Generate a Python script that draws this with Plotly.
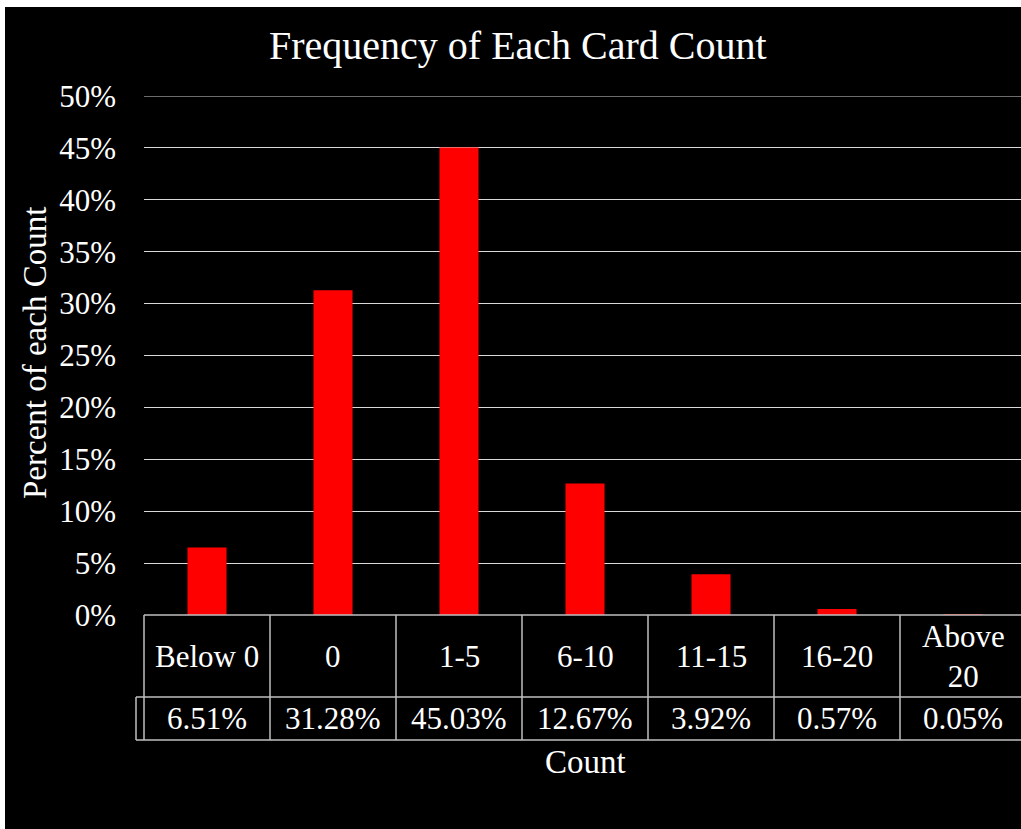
import plotly.graph_objects as go

# ---- data ----
categories = ["Below 0", "0", "1-5", "6-10", "11-15", "16-20", "Above 20"]
category_labels = ["Below 0", "0", "1-5", "6-10", "11-15", "16-20", "Above<br>20"]
percent_values = [6.51, 31.28, 45.03, 12.67, 3.92, 0.57, 0.05]
y_tick_values = [0, 5, 10, 15, 20, 25, 30, 35, 40, 45, 50]
y_tick_labels = [f"{v}%" for v in y_tick_values]

# ---- layout constants ----
W, H = 1021, 829
ML, MR, MT, MB = 144, 0, 96, 214
PW, PH = W - ML - MR, H - MT - MB
XMIN = -0.5
XMAX = XMIN + PW / 126.0
FONT = "Liberation Serif"
LINE = "#bfbfbf"
GRID = "#d9d9d9"


def px_x(px):
    return (px - ML) / PW


def px_y(py):
    return (H - MB - py) / PH


def cat_x(v):
    return (v - XMIN) / (XMAX - XMIN)


fig = go.Figure()
fig.add_trace(go.Bar(
    x=categories, y=percent_values, width=0.31,
    marker=dict(color="#ff0000", line=dict(width=0)),
    showlegend=False, hoverinfo="skip",
))

shapes = []
# white strips at top and left edge of the picture
shapes.append(dict(type="rect", xref="paper", yref="paper",
                   x0=px_x(0), x1=px_x(W), y0=px_y(7), y1=px_y(0),
                   fillcolor="white", line=dict(width=0), layer="below"))
shapes.append(dict(type="rect", xref="paper", yref="paper",
                   x0=px_x(0), x1=px_x(5), y0=px_y(H), y1=px_y(0),
                   fillcolor="white", line=dict(width=0), layer="below"))
# top gridline (at the upper range edge)
shapes.append(dict(type="line", xref="paper", yref="y",
                   x0=0, x1=1, y0=y_tick_values[-1], y1=y_tick_values[-1],
                   line=dict(color=GRID, width=1)))

row1_top, row1_bot, row2_bot = 615, 697, 740
n = len(categories)
# horizontal table lines
shapes.append(dict(type="line", xref="paper", yref="paper",
                   x0=0, x1=1, y0=px_y(row1_top), y1=px_y(row1_top),
                   line=dict(color=LINE, width=1.5)))
for yy in (row1_bot, row2_bot):
    shapes.append(dict(type="line", xref="paper", yref="paper",
                       x0=px_x(136), x1=1, y0=px_y(yy), y1=px_y(yy),
                       line=dict(color=LINE, width=1.5)))
shapes.append(dict(type="line", xref="paper", yref="paper",
                   x0=px_x(136), x1=px_x(136), y0=px_y(row1_bot), y1=px_y(row2_bot),
                   line=dict(color=LINE, width=1.5)))
# vertical table lines at category boundaries
for i in range(n + 1):
    xb = cat_x(i - 0.5)
    if xb > 1.001:
        continue
    shapes.append(dict(type="line", xref="paper", yref="paper",
                       x0=xb, x1=xb, y0=px_y(row1_top), y1=px_y(row2_bot),
                       line=dict(color=LINE, width=1.5)))

annotations = []
for i, (lab, v) in enumerate(zip(category_labels, percent_values)):
    annotations.append(dict(x=cat_x(i), y=px_y((row1_top + row1_bot) / 2),
                            xref="paper", yref="paper", text=lab, showarrow=False,
                            xanchor="center", yanchor="middle",
                            font=dict(family=FONT, size=31, color="white")))
    annotations.append(dict(x=cat_x(i), y=px_y((row1_bot + row2_bot) / 2),
                            xref="paper", yref="paper", text=f"{v:.2f}%", showarrow=False,
                            xanchor="center", yanchor="middle",
                            font=dict(family=FONT, size=31, color="white")))

# axis titles
annotations.append(dict(x=px_x(585), y=px_y(762), xref="paper", yref="paper",
                        text="Count", showarrow=False, xanchor="center", yanchor="middle",
                        font=dict(family=FONT, size=33, color="white")))
annotations.append(dict(x=px_x(35), y=px_y(353), xref="paper", yref="paper",
                        text="Percent of each Count", showarrow=False, textangle=-90,
                        xanchor="center", yanchor="middle",
                        font=dict(family=FONT, size=33, color="white")))
# chart title
annotations.append(dict(x=px_x(518), y=px_y(45), xref="paper", yref="paper",
                        text="Frequency of Each Card Count", showarrow=False,
                        xanchor="center", yanchor="middle",
                        font=dict(family=FONT, size=40, color="white")))

fig.update_layout(
    width=W, height=H, autosize=False,
    margin=dict(l=ML, r=MR, t=MT, b=MB, pad=0),
    paper_bgcolor="black", plot_bgcolor="black",
    shapes=shapes, annotations=annotations,
    xaxis=dict(type="category", range=[XMIN, XMAX], showticklabels=False,
               showgrid=False, zeroline=False, showline=False, ticks=""),
    yaxis=dict(range=[0, 50], tickvals=y_tick_values, ticktext=y_tick_labels,
               showgrid=True, gridcolor=GRID, gridwidth=1,
               zeroline=False, showline=False, ticks="", ticklabelstandoff=27,
               tickfont=dict(family=FONT, size=31, color="white")),
)

fig.write_html("out.html")
